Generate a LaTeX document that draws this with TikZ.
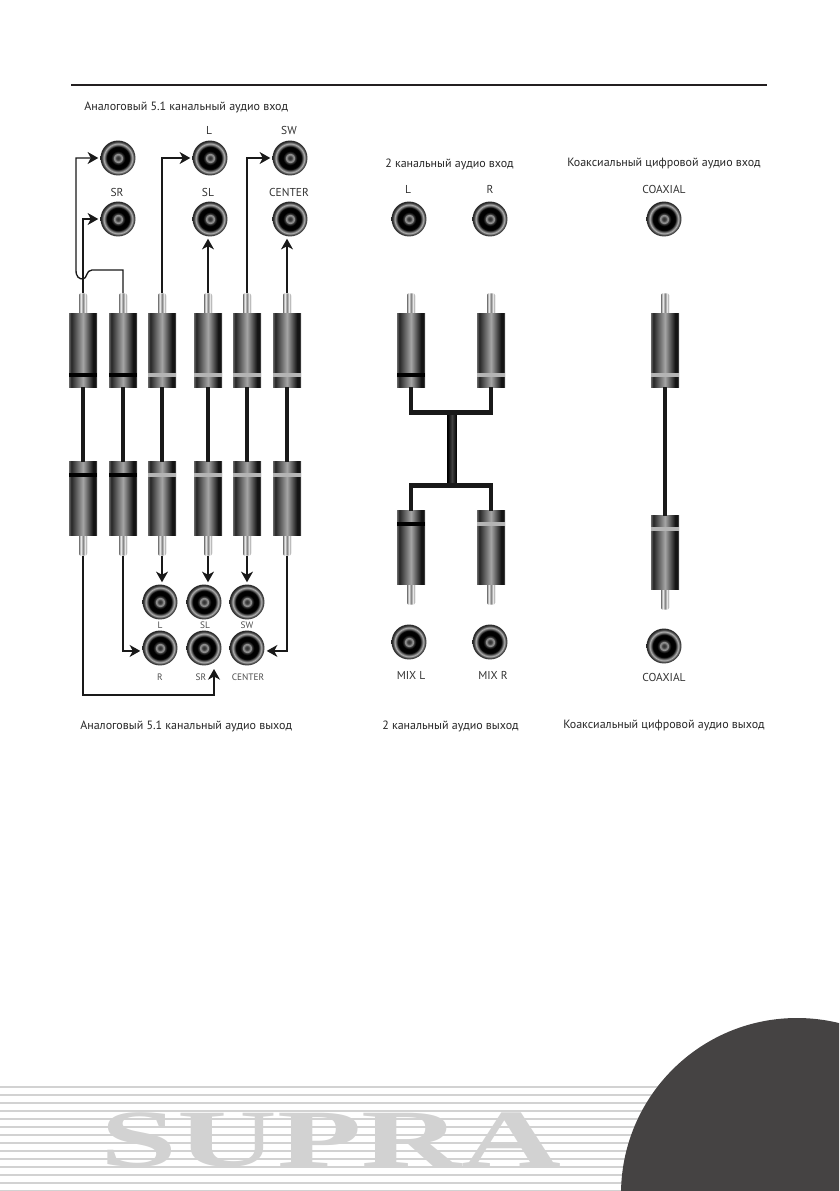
\documentclass[tikz,border=0pt]{standalone}
\usepackage{fontspec}
\usepackage{graphicx}
\usepackage{xcolor}
\usepackage{tikz}
\usetikzlibrary{positioning,arrows.meta,calc}
\setmainfont{PT Sans}
\newfontfamily\logofont{Liberation Serif}
\definecolor{ruleInk}{HTML}{231F20}
\definecolor{stripeGray}{HTML}{D2D2D2}
\definecolor{cornerGray}{HTML}{454343}
\definecolor{bandGray}{HTML}{B4B4B4}
\pgfdeclarehorizontalshading{plugshade}{100bp}{color(0bp)=(black!60); color(25bp)=(black!60);
  color(29bp)=(black!85); color(50bp)=(black!35); color(68bp)=(black!92); color(72bp)=(black!92); color(75bp)=(black!60); color(100bp)=(black!60)}
\pgfdeclarehorizontalshading{tipshade}{100bp}{color(0bp)=(black!55); color(25bp)=(black!55);
  color(36bp)=(black!5); color(50bp)=(black!50); color(64bp)=(black!5); color(75bp)=(black!55); color(100bp)=(black!55)}
\pgfdeclarehorizontalshading{stemshade}{100bp}{color(0bp)=(black); color(25bp)=(black);
  color(50bp)=(black!75); color(75bp)=(black); color(100bp)=(black)}
\pgfdeclareradialshading{jackshade}{\pgfpoint{0bp}{0bp}}{color(0bp)=(black!80); color(2.5bp)=(black!75);
  color(5.5bp)=(black!35); color(7.5bp)=(black!80); color(10bp)=(black); color(16bp)=(black);
  color(20.5bp)=(black!30); color(23bp)=(black!75); color(25bp)=(black!85); color(50bp)=(black!85)}

\begin{document}
\begin{tikzpicture}[
  x=0.75pt, y=-0.75pt,
  font=\fontsize{9}{11}\selectfont,
  caption/.style={inner sep=0pt, text=black!85, anchor=west},
  jacklabel/.style={inner sep=0pt, text=black!80, font=\fontsize{8.6}{10}\selectfont},
  smalllabel/.style={inner sep=0pt, text=black!70, font=\fontsize{7}{8}\selectfont},
  jack/.style={circle, shade, shading=jackshade, minimum size=26.2pt, inner sep=0pt},
  plugbody/.style={rectangle, shade, shading=plugshade, minimum width=21pt, minimum height=55pt, inner sep=0pt},
  pin/.style={rectangle, rounded corners=1.5pt, shade, shading=tipshade, minimum width=6pt, minimum height=16.5pt, inner sep=0pt},
  band/.style={rectangle, minimum width=21pt, minimum height=2.6pt, inner sep=0pt},
  cable/.style={line width=3.7pt, black!90},
  thincable/.style={line width=2.6pt, black!90},
  wire/.style={-{Stealth[length=8pt,width=9pt,inset=2.4pt]}, line width=1pt, black!90, shorten >=1.5pt},
]
\useasboundingbox (0,0) rectangle (839,1191);

% Footer stripes, logo and corner disc
\begin{scope}
  \clip (0,0) rectangle (839,1191);
  \foreach \y in {1087,1095,...,1191}
    \draw[stripeGray, line width=1.5pt] (0,\y) -- (839,\y);
  \node[inner sep=0pt, text=stripeGray] (logo) at (331,1140)
    {\scalebox{1.7}[1]{\logofont\bfseries\fontsize{61}{61}\selectfont SUPRA}};
  \fill[cornerGray] (797,1194) circle (176);
\end{scope}

% Header rule
\coordinate (ruleL) at (71,85);
\coordinate (ruleR) at (767,85);
\draw[ruleInk, line width=2.1pt] (ruleL) -- (ruleR);

% Section captions
\node[caption] (capInSix) at (84,107) {Аналоговый 5.1 канальный аудио вход};
\node[caption] (capInTwo) at (385,164) {2 канальный аудио вход};
\node[caption] (capInCo) at (567,164) {Коаксиальный цифровой аудио вход};
\node[caption] (capOutSix) at (80,726) {Аналоговый 5.1 канальный аудио выход};
\node[caption] (capOutTwo) at (382,726) {2 канальный аудио выход};
\node[caption] (capOutCo) at (563,726) {Коаксиальный цифровой аудио выход};

% Jacks
\foreach \n/\x/\y in {inFR/118/158, inSR/118/219, inL/210/158, inSL/210/219, inSW/290/158, inC/290/219,
    twoL/409/219, twoR/490/219, coIn/664/219,
    outL/160/602, outSL/204/602, outSW/247/602, outR/160/648, outSR/204/648, outC/247/648,
    mixL/409/642, mixR/490/642, coOut/664/646}
  \node[jack] (\n) at (\x,\y) {};

% Jack labels
\node[jacklabel] (lbL) at (209,130) {L};
\node[jacklabel] (lbSW) at (289,130) {SW};
\node[jacklabel] (lbSR) at (117,192) {SR};
\node[jacklabel] (lbSL) at (208,192) {SL};
\node[jacklabel] (lbC) at (289,192) {CENTER};
\node[jacklabel] (lbTwoL) at (408,189) {L};
\node[jacklabel] (lbTwoR) at (490,189) {R};
\node[jacklabel] (lbCoIn) at (664,189) {COAXIAL};
\node[jacklabel] (lbMixL) at (411,675) {MIX L};
\node[jacklabel] (lbMixR) at (493,675) {MIX R};
\node[jacklabel] (lbCoOut) at (664,677) {COAXIAL};
\node[smalllabel] (lbOutL) at (160,625) {L};
\node[smalllabel] (lbOutSL) at (205,625) {SL};
\node[smalllabel] (lbOutSW) at (247,625) {SW};
\node[smalllabel] (lbOutR) at (160,677) {R};
\node[smalllabel] (lbOutSR) at (201,677) {SR};
\node[smalllabel] (lbOutC) at (248,677) {CENTER};

% Upper plugs
\foreach \n/\x/\c in {A/83/black, B/123/black, C/162/bandGray, D/208/bandGray, E/247/bandGray, F/287/bandGray,
    ML/411/black, MR/491/bandGray, X/665/bandGray} {
  \node[pin, anchor=north] (tip\n) at (\x,293) {};
  \node[plugbody, below=-1.5pt of tip\n] (up\n) {};
  \node[band, fill=\c, above=7.7pt of up\n.south, anchor=south] (bandU\n) {};
}

% Lower plugs
\foreach \n/\x/\y/\c in {A/83/556/black, B/123/556/black, C/162/556/bandGray, D/208/556/bandGray,
    E/247/556/bandGray, F/287/556/bandGray, ML/411/605/black, MR/491/605/bandGray, X/665/610/bandGray} {
  \node[pin, anchor=south] (end\n) at (\x,\y) {};
  \node[plugbody, above=-1.5pt of end\n] (low\n) {};
  \node[band, fill=\c, below=8.4pt of low\n.north, anchor=north] (bandL\n) {};
}

% Cables
\foreach \n in {A,B,C,D,E,F}
  \draw[cable] (up\n.south) -- (low\n.north);
\draw[thincable] (upX.south) -- (lowX.north);

% Y splitter
\node[rectangle, shade, shading=stemshade, minimum width=6.8pt, minimum height=57pt, inner sep=0pt] (hub) at (452,449) {};
\coordinate (hubT) at ($(hub.north)+(0,2)$);
\coordinate (hubB) at ($(hub.south)+(0,-2)$);
\draw[cable] (upML.south) |- (hubT) -| (upMR.south);
\draw[cable] (lowML.north) |- (hubB) -| (lowMR.north);

% Arrows to the upper jacks
\coordinate (hopR) at (92,270);
\coordinate (hopL) at (76,270);
\draw[wire] (tipA.north) |- (inSR.west);
\draw[wire] (tipB.north) |- (hopR) .. controls (86,270) and (87,279) .. (83,279)
  .. controls (79,279) and (76,277) .. (hopL) |- (inFR.west);
\draw[wire] (tipC.north) |- (inL.west);
\draw[wire] (tipD.north) -- (tipD.north |- inSL.south);
\draw[wire] (tipE.north) |- (inSW.west);
\draw[wire] (tipF.north) -- (tipF.north |- inC.south);

% Arrows to the lower jacks
\coordinate (srLow) at (214,695);
\coordinate (srIn) at (214,667);
\draw[wire] (endA.south) |- (srLow) -- (srIn);
\draw[wire] (endB.south) |- ([yshift=-2.2pt]outR.west);
\draw[wire] (endC.south) -- (endC.south |- outL.north);
\draw[wire] (endD.south) -- (endD.south |- outSL.north);
\draw[wire] (endE.south) -- (endE.south |- outSW.north);
\draw[wire] (endF.south) |- ([yshift=-2.2pt]outC.east);

\end{tikzpicture}
\end{document}
